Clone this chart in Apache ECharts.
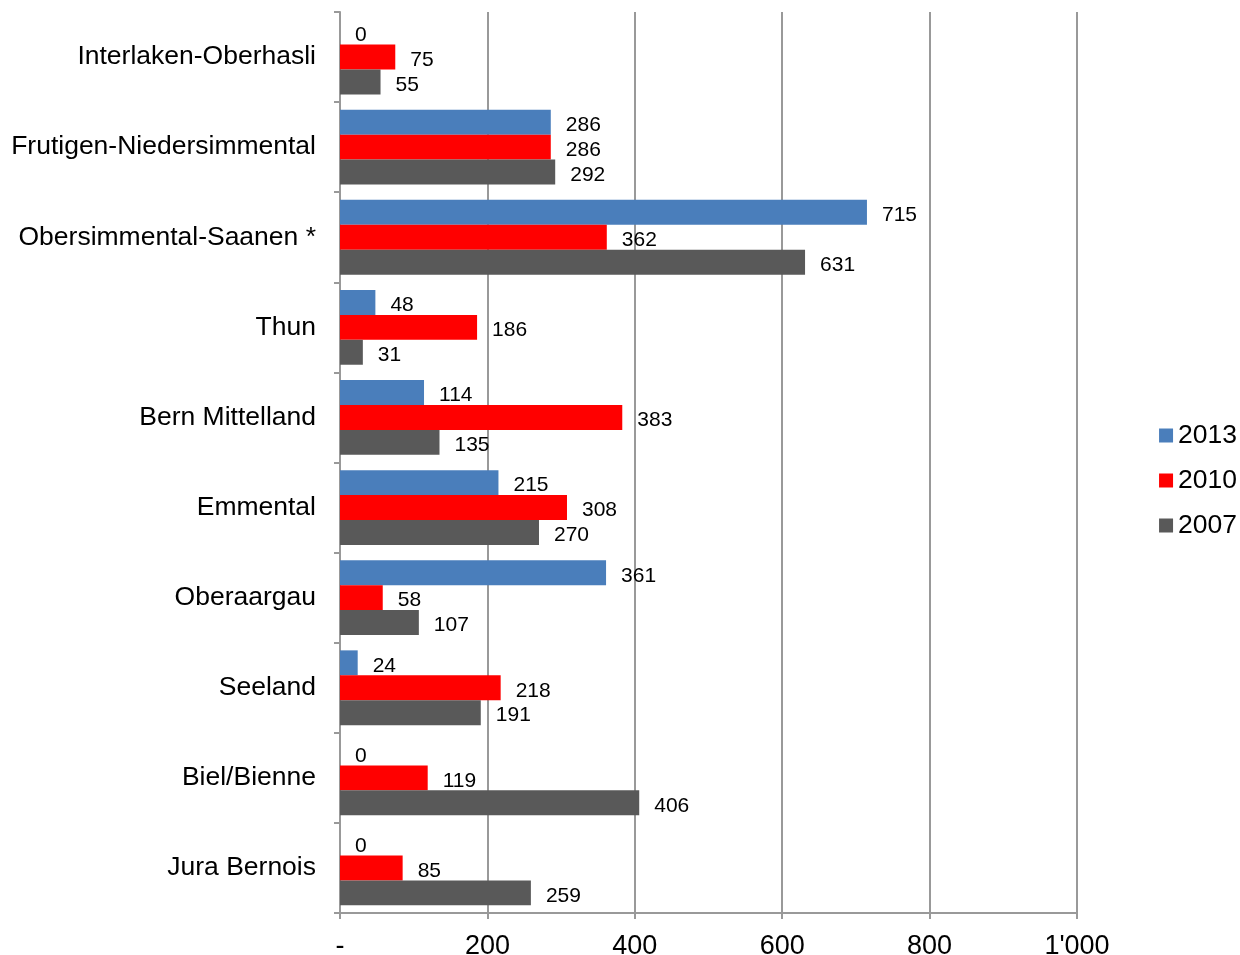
<!DOCTYPE html>
<html>
<head>
<meta charset="utf-8">
<script src="https://cdn.jsdelivr.net/npm/echarts@6/dist/echarts.min.js"></script>
<style>html,body{margin:0;padding:0;background:#fff}#c{width:1240px;height:955px}</style>
</head>
<body>
<div id="c"></div>
<script>
var categories = ["Interlaken-Oberhasli","Frutigen-Niedersimmental","Obersimmental-Saanen *","Thun","Bern Mittelland","Emmental","Oberaargau","Seeland","Biel/Bienne","Jura Bernois"];
var v2013 = [0,286,715,48,114,215,361,24,0,0];
var v2010 = [75,286,362,186,383,308,58,218,119,85];
var v2007 = [55,292,631,31,135,270,107,191,406,259];
var seriesNames = ["2013","2010","2007"];
var colors = ["#4A7EBB","#FF0000","#595959"];

var chart = echarts.init(document.getElementById('c'));
var font = "Liberation Sans, Arial, sans-serif";
function mk(name, data, color){
  return {
    name: name, type: 'bar', data: data, barGap: '0%', barCategoryGap: '17%',
    itemStyle: {color: color},
    label: {show: true, position: 'right', distance: 15, offset: [0, 3], color: '#000', fontSize: 21, fontFamily: font},
    animation: false
  };
}
chart.setOption({
  animation: false,
  textStyle: {fontFamily: font},
  grid: {left: 340, right: 163, top: 12, bottom: 42, containLabel: false, outerBoundsMode: 'none'},
  legend: {
    orient: 'vertical', right: -2, top: 417, itemWidth: 14, itemHeight: 14, itemGap: 18,
    icon: 'rect', textStyle: {fontSize: 26.5, color: '#000', fontFamily: font},
    data: seriesNames
  },
  xAxis: {
    type: 'value', min: 0, max: 1000, interval: 200,
    axisLine: {show: true, lineStyle: {color: '#999', width: 2}},
    axisTick: {show: true, length: 6, lineStyle: {color: '#999', width: 2}},
    splitLine: {show: true, lineStyle: {color: '#999', width: 2}},
    axisLabel: {fontSize: 27, color: '#000', margin: 20, fontFamily: font,
      formatter: function(v){ if (v === 0) return '-'; if (v >= 1000) return Math.floor(v/1000) + "'" + String(v%1000).padStart(3,'0'); return String(v); }}
  },
  yAxis: {
    type: 'category', data: categories, inverse: true,
    axisLine: {show: true, lineStyle: {color: '#999', width: 2}},
    axisTick: {show: true, length: 6, lineStyle: {color: '#999', width: 2}},
    axisLabel: {fontSize: 26.5, color: '#000', margin: 24, fontFamily: font, padding: [3, 0, 0, 0]}
  },
  series: [mk(seriesNames[0], v2013, colors[0]), mk(seriesNames[1], v2010, colors[1]), mk(seriesNames[2], v2007, colors[2])]
});
</script>
</body>
</html>
